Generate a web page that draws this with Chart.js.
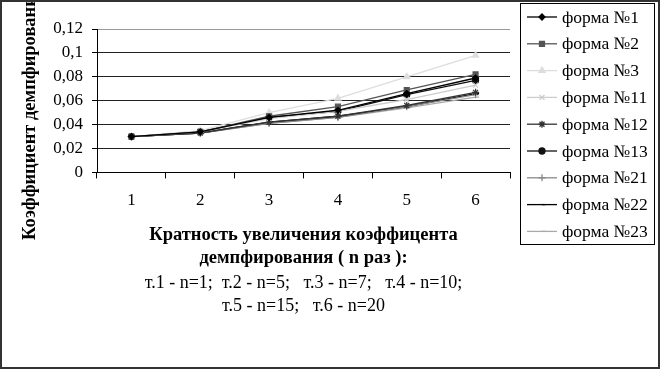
<!DOCTYPE html>
<html>
<head>
<meta charset="utf-8">
<script src="https://cdn.jsdelivr.net/npm/chart.js@4.4.0/dist/chart.umd.min.js"></script>
<style>
  body { margin: 0; background: #fff; }
  #wrap { position: relative; width: 660px; height: 369px; }
  #frame { position: absolute; left: 0; top: 0; width: 660px; height: 369px; box-sizing: border-box; border: 2px solid #333; pointer-events: none; }
</style>
</head>
<body>
<div id="wrap">
  <canvas id="dampChart"></canvas>
  <div id="frame"></div>
</div>
<script>
const categories = ["1", "2", "3", "4", "5", "6"];

const forma1 = [0.030, 0.034, 0.046, 0.052, 0.066, 0.079];
const forma2 = [0.030, 0.034, 0.047, 0.055, 0.069, 0.082];
const forma3 = [0.030, 0.035, 0.050, 0.062, 0.080, 0.098];
const forma11 = [0.030, 0.034, 0.045, 0.051, 0.061, 0.073];
const forma12 = [0.030, 0.033, 0.042, 0.047, 0.056, 0.067];
const forma13 = [0.030, 0.034, 0.046, 0.051, 0.065, 0.077];
const forma21 = [0.030, 0.033, 0.041, 0.046, 0.055, 0.065];
const forma22 = [0.030, 0.033, 0.042, 0.047, 0.055, 0.066];
const forma23 = [0.030, 0.033, 0.041, 0.046, 0.054, 0.063];

const seriesNames = ["форма №1", "форма №2", "форма №3", "форма №11", "форма №12", "форма №13", "форма №21", "форма №22", "форма №23"];

const yTitle = "Коэффициент демпфирования";
const xTitle = ["Кратность увеличения коэффицента", "демпфирования ( n раз ):"];
const xNote = ["т.1 - n=1;  т.2 - n=5;   т.3 - n=7;   т.4 - n=10;", "т.5 - n=15;   т.6 - n=20"];

const serif = "'Liberation Serif', 'Times New Roman', serif";

const mk = (label, data, color, pointStyle, radius) => ({
  label: label,
  data: data,
  borderColor: color,
  backgroundColor: color,
  pointBackgroundColor: color,
  pointBorderColor: color,
  pointStyle: pointStyle,
  pointRadius: radius,
  pointBorderWidth: 1.2,
  borderWidth: 1.3,
  tension: 0,
  fill: false,
});

const datasets = [
  mk(seriesNames[0], forma1, "#000000", "rectRot", 3),
  mk(seriesNames[1], forma2, "#555555", "rect", 3.5),
  mk(seriesNames[2], forma3, "#dddddd", "triangle", 3.5),
  mk(seriesNames[3], forma11, "#cccccc", "crossRot", 3.5),
  mk(seriesNames[4], forma12, "#333333", "star", 3.5),
  mk(seriesNames[5], forma13, "#111111", "circle", 3),
  mk(seriesNames[6], forma21, "#888888", "cross", 3.5),
  mk(seriesNames[7], forma22, "#000000", "dash", 3.5),
  mk(seriesNames[8], forma23, "#aaaaaa", "dash", 3.5),
];

// legend in a box + rotated y title, drawn by hand
const extras = {
  id: "extras",
  afterDraw(chart) {
    const ctx = chart.ctx;
    ctx.save();
    // y title
    ctx.translate(30, 240);
    ctx.rotate(-Math.PI / 2);
    ctx.font = "bold 18.5px " + serif;
    ctx.fillStyle = "#000";
    ctx.textAlign = "left";
    ctx.textBaseline = "middle";
    ctx.fillText(yTitle, 0, 0);
    ctx.restore();

    // legend
    ctx.save();
    ctx.strokeStyle = "#000";
    ctx.lineWidth = 1;
    ctx.strokeRect(520.5, 3.5, 134, 241);
    ctx.font = "17.5px " + serif;
    ctx.textBaseline = "middle";
    ctx.textAlign = "left";
    chart.data.datasets.forEach((ds, i) => {
      const y = 17 + i * 26.8;
      ctx.strokeStyle = ds.borderColor;
      ctx.lineWidth = 1.3;
      ctx.beginPath();
      ctx.moveTo(527, y);
      ctx.lineTo(557, y);
      ctx.stroke();
      ctx.fillStyle = ds.pointBackgroundColor;
      ctx.strokeStyle = ds.pointBorderColor;
      if (Chart.helpers && Chart.helpers.drawPoint) {
        Chart.helpers.drawPoint(ctx, {
          pointStyle: ds.pointStyle,
          radius: ds.pointRadius,
          borderWidth: ds.pointBorderWidth,
          rotation: 0,
        }, 542, y);
      }
      ctx.fillStyle = "#000";
      ctx.fillText(ds.label, 562, y + 1);
    });
    ctx.restore();
  },
};

const ctx = document.getElementById("dampChart").getContext("2d");
new Chart(ctx, {
  type: "line",
  data: {
    labels: categories,
    datasets: datasets,
  },
  plugins: [extras],
  options: {
    responsive: true,
    maintainAspectRatio: false,
    animation: false,
    layout: {
      padding: { top: 29, right: 150, bottom: 51, left: 0 },
    },
    plugins: {
      legend: { display: false },
      tooltip: { enabled: false },
      title: { display: false },
      subtitle: {
        display: true,
        position: "bottom",
        fullSize: false,
        text: xNote,
        color: "#000",
        font: { family: serif, size: 18, lineHeight: 1.28 },
        padding: { top: 2, bottom: 0 },
      },
    },
    scales: {
      x: {
        offset: true,
        grid: {
          offset: true,
          drawOnChartArea: true,
          color: (c) => (c.index === categories.length ? "#999999" : "rgba(0,0,0,0)"),
          tickColor: "#000",
          tickLength: 6,
        },
        border: { color: "#000", width: 1 },
        ticks: {
          color: "#000",
          font: { family: serif, size: 17 },
          padding: 12,
        },
        title: {
          display: true,
          text: xTitle,
          color: "#000",
          font: { family: serif, size: 18.5, weight: "bold", lineHeight: 1.243 },
          padding: 0,
        },
        afterFit(scale) {
          scale.height = 97.5;
        },
      },
      y: {
        min: 0,
        max: 0.12,
        grid: {
          color: (c) => (c.tick && c.tick.value >= 0.119 ? "#999999" : "#222222"),
          tickColor: "#000",
          tickLength: 5,
        },
        border: { color: "#000", width: 1 },
        ticks: {
          stepSize: 0.02,
          color: "#000",
          padding: 9,
          font: { family: serif, size: 17 },
          callback: (v) => parseFloat(v.toFixed(2)).toString().replace(".", ","),
        },
        afterFit(scale) {
          scale.width = 97;
        },
      },
    },
  },
});
</script>
</body>
</html>
